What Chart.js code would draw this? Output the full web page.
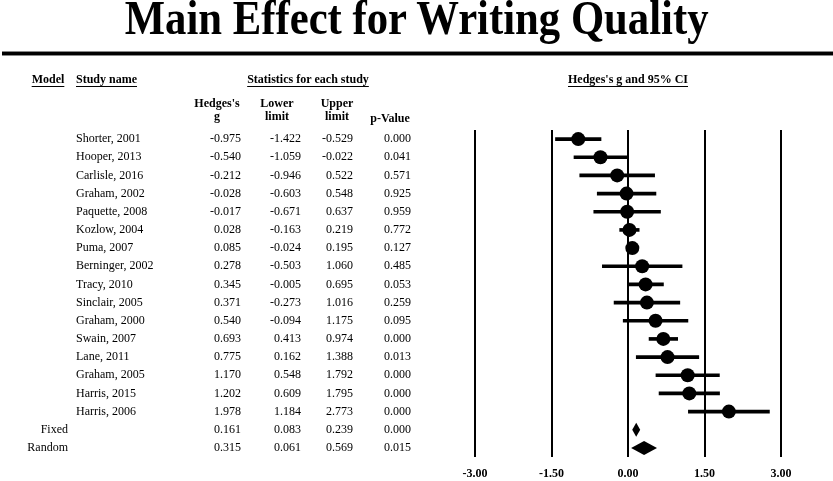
<!DOCTYPE html>
<html>
<head>
<meta charset="utf-8">
<script src="https://cdn.jsdelivr.net/npm/chart.js@4.4.1/dist/chart.umd.min.js"></script>
<style>
  body { margin: 0; background: #fff; }
  #wrap { position: relative; width: 833px; height: 481px; overflow: hidden; }
  #titulo {
    position: absolute; left: 0; top: -6px; width: 833px; text-align: center;
    font: bold 48px "Liberation Serif", serif; line-height: 48px; color: #000;
    transform: scaleX(0.89); transform-origin: 418px 0;
  }
  #grafico { position: absolute; left: 0; top: 0; }
</style>
</head>
<body>
<div id="wrap">
  <canvas id="grafico" width="833" height="481"></canvas>
  <div id="titulo">Main Effect for Writing Quality</div>
</div>
<script>
const studyNames = [
    "Shorter, 2001", "Hooper, 2013", "Carlisle, 2016", "Graham, 2002",
    "Paquette, 2008", "Kozlow, 2004", "Puma, 2007", "Berninger, 2002",
    "Tracy, 2010", "Sinclair, 2005", "Graham, 2000", "Swain, 2007",
    "Lane, 2011", "Graham, 2005", "Harris, 2015", "Harris, 2006"
];
const hedgesG = [-0.975, -0.540, -0.212, -0.028, -0.017, 0.028, 0.085, 0.278,
    0.345, 0.371, 0.540, 0.693, 0.775, 1.170, 1.202, 1.978];
const lowerLimit = [-1.422, -1.059, -0.946, -0.603, -0.671, -0.163, -0.024, -0.503,
    -0.005, -0.273, -0.094, 0.413, 0.162, 0.548, 0.609, 1.184];
const upperLimit = [-0.529, -0.022, 0.522, 0.548, 0.637, 0.219, 0.195, 1.060,
    0.695, 1.016, 1.175, 0.974, 1.388, 1.792, 1.795, 2.773];
const pValues = [0.000, 0.041, 0.571, 0.925, 0.959, 0.772, 0.127, 0.485,
    0.053, 0.259, 0.095, 0.000, 0.013, 0.000, 0.000, 0.000];

const pooledNames = ["Fixed", "Random"];
const pooledG = [0.161, 0.315];
const pooledLower = [0.083, 0.061];
const pooledUpper = [0.239, 0.569];
const pooledP = [0.000, 0.015];

const axisTicks = [-3, -1.5, 0, 1.5, 3];

const FUENTE = '"Liberation Serif", serif';
const totalFilas = studyNames.length + pooledNames.length;

function texto(ctx, t, x, y, align, bold) {
    ctx.font = (bold ? "bold " : "") + "12px " + FUENTE;
    ctx.textAlign = align;
    ctx.fillText(t, x, y);
}

function subrayado(ctx, t, x, y, align) {
    ctx.font = "bold 12px " + FUENTE;
    const w = ctx.measureText(t).width;
    let x0 = x;
    if (align === "center") x0 = x - w / 2;
    if (align === "right") x0 = x - w;
    texto(ctx, t, x, y, align, true);
    ctx.fillRect(x0, y + 6, w, 1);
}

// tabla de la izquierda, encabezados y diamantes
const tablaPlugin = {
    id: "tabla",
    afterDatasetsDraw(chart) {
        const ctx = chart.ctx;
        const xs = chart.scales.x;
        const ys = chart.scales.y;
        ctx.save();
        ctx.fillStyle = "#000";
        pooledNames.forEach((n, i) => {
            const fila = studyNames.length + i;
            const yc = ys.getPixelForValue(fila);
            const xl = xs.getPixelForValue(pooledLower[i]);
            const xm = xs.getPixelForValue(pooledG[i]);
            const xr = xs.getPixelForValue(pooledUpper[i]);
            ctx.beginPath();
            ctx.moveTo(xl, yc);
            ctx.lineTo(xm, yc - 7);
            ctx.lineTo(xr, yc);
            ctx.lineTo(xm, yc + 7);
            ctx.closePath();
            ctx.fill();
        });
        ctx.restore();
    },
    afterDraw(chart) {
        const ctx = chart.ctx;
        const ys = chart.scales.y;
        ctx.save();
        ctx.fillStyle = "#000";
        ctx.textBaseline = "middle";

        // linea bajo el titulo
        ctx.fillStyle = "#888";
        ctx.fillRect(2, 51, 831, 5);
        ctx.fillStyle = "#000";
        ctx.fillRect(2, 52, 831, 3);

        subrayado(ctx, "Model", 48, 80, "center");
        subrayado(ctx, "Study name", 76, 80, "left");
        subrayado(ctx, "Statistics for each study", 308, 80, "center");
        subrayado(ctx, "Hedges's g and 95% CI", 628, 80, "center");

        texto(ctx, "Hedges's", 217, 104, "center", true);
        texto(ctx, "g", 217, 117, "center", true);
        texto(ctx, "Lower", 277, 104, "center", true);
        texto(ctx, "limit", 277, 117, "center", true);
        texto(ctx, "Upper", 337, 104, "center", true);
        texto(ctx, "limit", 337, 117, "center", true);
        texto(ctx, "p-Value", 390, 119, "center", true);

        const fila = (yc, g, lo, up, p) => {
            texto(ctx, g.toFixed(3), 241, yc, "right");
            texto(ctx, lo.toFixed(3), 301, yc, "right");
            texto(ctx, up.toFixed(3), 353, yc, "right");
            texto(ctx, p.toFixed(3), 411, yc, "right");
        };

        studyNames.forEach((n, i) => {
            const yc = ys.getPixelForValue(i);
            texto(ctx, n, 76, yc, "left");
            fila(yc, hedgesG[i], lowerLimit[i], upperLimit[i], pValues[i]);
        });
        pooledNames.forEach((n, i) => {
            const yc = ys.getPixelForValue(studyNames.length + i);
            texto(ctx, n, 68, yc, "right");
            fila(yc, pooledG[i], pooledLower[i], pooledUpper[i], pooledP[i]);
        });
        ctx.restore();
    }
};

const ctx = document.getElementById("grafico").getContext("2d");

new Chart(ctx, {
    type: "bar",
    data: {
        datasets: [{
            type: "bar",
            data: studyNames.map((n, i) => ({ y: i, x: [lowerLimit[i], upperLimit[i]] })),
            backgroundColor: "#000",
            borderWidth: 0,
            barThickness: 3,
            order: 2
        }, {
            type: "scatter",
            data: studyNames.map((n, i) => ({ x: hedgesG[i], y: i })),
            backgroundColor: "#000",
            borderWidth: 0,
            pointRadius: 7,
            order: 1
        }]
    },
    options: {
        indexAxis: "y",
        responsive: false,
        animation: false,
        layout: { padding: { left: 475, right: 52, top: 130, bottom: 0 } },
        plugins: {
            legend: { display: false },
            tooltip: { enabled: false }
        },
        scales: {
            x: {
                type: "linear",
                min: -3,
                max: 3,
                offset: false,
                afterBuildTicks: s => { s.ticks = axisTicks.map(v => ({ value: v })); },
                afterFit: s => { s.height = 24; },
                ticks: {
                    callback: v => v.toFixed(2),
                    color: "#000",
                    font: { family: FUENTE, size: 12, weight: "bold" },
                    padding: 10,
                    maxRotation: 0
                },
                grid: { color: "#000", lineWidth: 2, drawTicks: false, offset: false },
                border: { display: false }
            },
            y: {
                type: "linear",
                display: false,
                offset: false,
                min: -0.5,
                max: totalFilas - 0.5,
                reverse: true,
                grid: { offset: false }
            }
        }
    },
    plugins: [tablaPlugin]
});
</script>
</body>
</html>
